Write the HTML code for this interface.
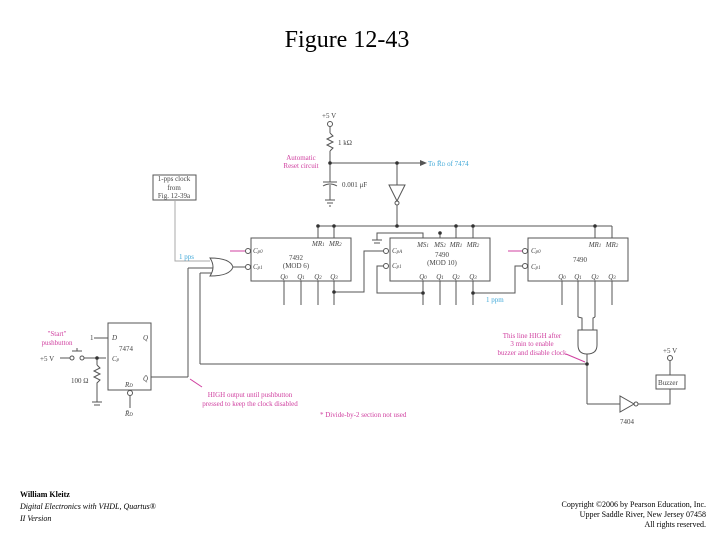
<!DOCTYPE html>
<html><head><meta charset="utf-8"><style>
html,body{margin:0;padding:0;background:#fff;width:720px;height:540px;overflow:hidden}
svg{display:block}
text{font-family:"Liberation Serif",serif}
</style></head><body>
<svg width="720" height="540" viewBox="0 0 720 540" xmlns="http://www.w3.org/2000/svg">
<text x="347" y="47" font-size="24" text-anchor="middle" fill="#000">Figure 12-43</text>

<g stroke="#555" stroke-width="1" fill="none">
<circle cx="330" cy="124" r="2.5"/>
<line x1="330" y1="127" x2="330" y2="133"/>
<polyline points="330,133 333,136 327,139 333,142 327,145 333,148 330,151"/>
<line x1="330" y1="151" x2="330" y2="182"/>
<line x1="330" y1="163" x2="420" y2="163"/>
<line x1="323" y1="182" x2="337" y2="182"/>
<path d="M323,186 Q330,182 337,186"/>
<line x1="330" y1="185" x2="330" y2="200"/>
<line x1="325" y1="200" x2="335" y2="200"/><line x1="327" y1="203" x2="333" y2="203"/><line x1="329" y1="206" x2="331" y2="206"/>
<line x1="397" y1="163" x2="397" y2="185"/>
<polygon points="389,185 405,185 397,201"/>
<circle cx="397" cy="203" r="2"/>
<line x1="397" y1="205" x2="397" y2="226"/>
<line x1="318" y1="226" x2="600" y2="226"/>
<line x1="318" y1="226" x2="318" y2="238"/>
<line x1="334" y1="226" x2="334" y2="238"/>
<line x1="456" y1="226" x2="456" y2="238"/>
<line x1="473" y1="226" x2="473" y2="238"/>
<line x1="595" y1="226" x2="595" y2="238"/>
<line x1="612" y1="226" x2="612" y2="238"/>
<line x1="595" y1="226" x2="612" y2="226"/>
<polyline points="423,238 423,233 377,233 377,240"/>
<polyline points="440,238 440,233"/>
<line x1="372" y1="240" x2="382" y2="240"/><line x1="374" y1="243" x2="380" y2="243"/>
<rect x="153" y="175" width="43" height="25"/>
<rect x="251" y="238" width="100" height="43"/>
<rect x="390" y="238" width="100" height="43"/>
<rect x="528" y="238" width="100" height="43"/>
<circle cx="248" cy="251" r="2.5"/><circle cx="248" cy="267" r="2.5"/>
<circle cx="386" cy="251" r="2.5"/><circle cx="386" cy="266" r="2.5"/>
<circle cx="525" cy="251" r="2.5"/><circle cx="525" cy="266" r="2.5"/>
<path d="M210,258 Q230,258 233,267 Q230,276 210,276 Q216,267 210,258 Z"/>
<line x1="233" y1="267" x2="245" y2="267"/>
<line x1="188" y1="268" x2="213" y2="268"/>
<line x1="200" y1="273" x2="212" y2="273"/>
<line x1="188" y1="268" x2="188" y2="377"/>
<line x1="200" y1="273" x2="200" y2="364"/>
<line x1="200" y1="364" x2="587" y2="364"/>
<line x1="284" y1="281" x2="284" y2="305"/><line x1="301" y1="281" x2="301" y2="305"/>
<line x1="318" y1="281" x2="318" y2="305"/><line x1="334" y1="281" x2="334" y2="305"/>
<polyline points="334,292 364,292 364,251 383,251"/>
<polyline points="383,266 377,266 377,293 423,293"/>
<line x1="423" y1="281" x2="423" y2="305"/><line x1="440" y1="281" x2="440" y2="305"/>
<line x1="456" y1="281" x2="456" y2="305"/><line x1="473" y1="281" x2="473" y2="305"/>
<polyline points="473,293 515,293 515,266 522,266"/>
<line x1="562" y1="281" x2="562" y2="305"/><line x1="578" y1="281" x2="578" y2="317"/>
<line x1="595" y1="281" x2="595" y2="317"/><line x1="612" y1="281" x2="612" y2="305"/>
<polyline points="578,317 582,318 582,330"/>
<polyline points="595,317 593,318 593,330"/>
<path d="M578,330 L597,330 L597,345 Q597,354 587,354 Q578,354 578,345 Z"/>
<line x1="587" y1="354" x2="587" y2="404"/>
<polyline points="587,404 620,404"/>
<polygon points="620,396 620,412 634,404"/>
<circle cx="636" cy="404" r="2"/>
<polyline points="638,404 670,404 670,389"/>
<rect x="656" y="375" width="29" height="14"/>
<circle cx="670" cy="358" r="2.5"/><line x1="670" y1="361" x2="670" y2="375"/>
<rect x="108" y="323" width="43" height="67"/>
<polyline points="151,377 188,377"/>
<line x1="94" y1="338" x2="108" y2="338"/>
<line x1="60" y1="358" x2="70" y2="358"/>
<circle cx="72" cy="358" r="2"/><circle cx="82" cy="358" r="2"/>
<line x1="72" y1="351" x2="82" y2="351"/><line x1="77" y1="348" x2="77" y2="351"/>
<line x1="84" y1="358" x2="106" y2="358"/>
<line x1="97" y1="358" x2="97" y2="365"/>
<polyline points="97,365 100,368 94,371 100,374 94,377 100,380 97,383 97,402"/>
<line x1="92" y1="402" x2="102" y2="402"/><line x1="94" y1="405" x2="100" y2="405"/>
<circle cx="130" cy="393" r="2.5"/><line x1="130" y1="396" x2="130" y2="408"/>
</g>
<polyline points="175,200 175,261 210,261" stroke="#aaa" fill="none"/>
<polyline points="420,160 427,163 420,166" fill="#555" stroke="none"/>
<g fill="#333">
<circle cx="330" cy="163" r="1.8"/><circle cx="397" cy="163" r="1.8"/><circle cx="397" cy="226" r="1.8"/>
<circle cx="334" cy="226" r="1.8"/><circle cx="456" cy="226" r="1.8"/><circle cx="473" cy="226" r="1.8"/>
<circle cx="595" cy="226" r="1.8"/><circle cx="334" cy="292" r="1.8"/><circle cx="423" cy="293" r="1.8"/>
<circle cx="473" cy="293" r="1.8"/><circle cx="587" cy="364" r="1.8"/><circle cx="97" cy="358" r="1.8"/>
<circle cx="440" cy="233" r="1.8"/><circle cx="318" cy="226" r="1.8"/>
</g>
<g font-size="7" fill="#444">
<text x="322" y="118">+5 V</text>
<text x="338" y="145">1 kΩ</text>
<text x="342" y="187">0.001 μF</text>
<text x="174" y="181" text-anchor="middle">1-pps clock</text>
<text x="174" y="190" text-anchor="middle">from</text>
<text x="174" y="198" text-anchor="middle">Fig. 12-39a</text>
<text x="253" y="253" font-style="italic">C<tspan font-size="5">p0</tspan></text>
<text x="253" y="269" font-style="italic">C<tspan font-size="5">p1</tspan></text>
<text x="312" y="246" font-style="italic">MR<tspan font-size="5">1</tspan></text>
<text x="329" y="246" font-style="italic">MR<tspan font-size="5">2</tspan></text>
<text x="296" y="260" text-anchor="middle">7492</text>
<text x="296" y="268" text-anchor="middle">(MOD 6)</text>
<g font-style="italic" text-anchor="middle">
<text x="284" y="279">Q<tspan font-size="5">0</tspan></text><text x="301" y="279">Q<tspan font-size="5">1</tspan></text>
<text x="318" y="279">Q<tspan font-size="5">2</tspan></text><text x="334" y="279">Q<tspan font-size="5">3</tspan></text>
<text x="423" y="279">Q<tspan font-size="5">0</tspan></text><text x="440" y="279">Q<tspan font-size="5">1</tspan></text>
<text x="456" y="279">Q<tspan font-size="5">2</tspan></text><text x="473" y="279">Q<tspan font-size="5">3</tspan></text>
<text x="562" y="279">Q<tspan font-size="5">0</tspan></text><text x="578" y="279">Q<tspan font-size="5">1</tspan></text>
<text x="595" y="279">Q<tspan font-size="5">2</tspan></text><text x="612" y="279">Q<tspan font-size="5">3</tspan></text>
<text x="423" y="247">MS<tspan font-size="5">1</tspan></text><text x="440" y="247">MS<tspan font-size="5">2</tspan></text>
<text x="456" y="247">MR<tspan font-size="5">1</tspan></text><text x="473" y="247">MR<tspan font-size="5">2</tspan></text>
<text x="595" y="247">MR<tspan font-size="5">1</tspan></text><text x="612" y="247">MR<tspan font-size="5">2</tspan></text>
</g>
<text x="392" y="253" font-style="italic">C<tspan font-size="5">pA</tspan></text>
<text x="392" y="268" font-style="italic">C<tspan font-size="5">p1</tspan></text>
<text x="442" y="257" text-anchor="middle">7490</text>
<text x="442" y="265" text-anchor="middle">(MOD 10)</text>
<text x="531" y="253" font-style="italic">C<tspan font-size="5">p0</tspan></text>
<text x="531" y="269" font-style="italic">C<tspan font-size="5">p1</tspan></text>
<text x="580" y="262" text-anchor="middle">7490</text>
<text x="663" y="353">+5 V</text>
<text x="658" y="385">Buzzer</text>
<text x="620" y="424">7404</text>
<text x="112" y="340" font-style="italic">D</text>
<text x="143" y="340" font-style="italic">Q</text>
<text x="119" y="351">7474</text>
<text x="112" y="361" font-style="italic">C<tspan font-size="5">p</tspan></text>
<text x="143" y="381" font-style="italic">Q̄</text>
<text x="125" y="387" font-style="italic">R<tspan font-size="5">D</tspan></text>
<text x="125" y="416" font-style="italic">R̄<tspan font-size="5">D</tspan></text>
<text x="90" y="340">1</text>
<text x="40" y="361">+5 V</text>
<text x="71" y="383">100 Ω</text>
</g>
<g font-size="7" fill="#d040a0">
<text x="301" y="160" text-anchor="middle">Automatic</text>
<text x="301" y="168" text-anchor="middle">Reset circuit</text>
<text x="532" y="338" text-anchor="middle">This line HIGH after</text>
<text x="532" y="346" text-anchor="middle">3 min to enable</text>
<text x="532" y="355" text-anchor="middle">buzzer and disable clock</text>
<text x="250" y="397" text-anchor="middle">HIGH output until pushbutton</text>
<text x="250" y="406" text-anchor="middle">pressed to keep the clock disabled</text>
<text x="320" y="417">* Divide-by-2 section not used</text>
<text x="57" y="336" text-anchor="middle">"Start"</text>
<text x="57" y="345" text-anchor="middle">pushbutton</text>
</g>
<g stroke="#d040a0" fill="none">
<line x1="230" y1="251" x2="245" y2="251"/>
<line x1="508" y1="251" x2="522" y2="251"/>
<line x1="566" y1="354" x2="585" y2="362"/>
<line x1="190" y1="379" x2="202" y2="387"/>
</g>
<g font-size="7" fill="#3fa8d8">
<text x="428" y="166">To R̄<tspan font-size="5">D</tspan> of 7474</text>
<text x="179" y="259">1 pps</text>
<text x="486" y="302">1 ppm</text>
</g>
<g font-size="8" fill="#000">
<text x="20" y="497" font-weight="bold">William Kleitz</text>
<text x="20" y="509" font-style="italic">Digital Electronics with VHDL, Quartus®</text>
<text x="20" y="521" font-style="italic">II Version</text>
<text x="706" y="507" text-anchor="end">Copyright ©2006 by Pearson Education, Inc.</text>
<text x="706" y="517" text-anchor="end">Upper Saddle River, New Jersey 07458</text>
<text x="706" y="527" text-anchor="end">All rights reserved.</text>
</g>
</svg>
</body></html>
